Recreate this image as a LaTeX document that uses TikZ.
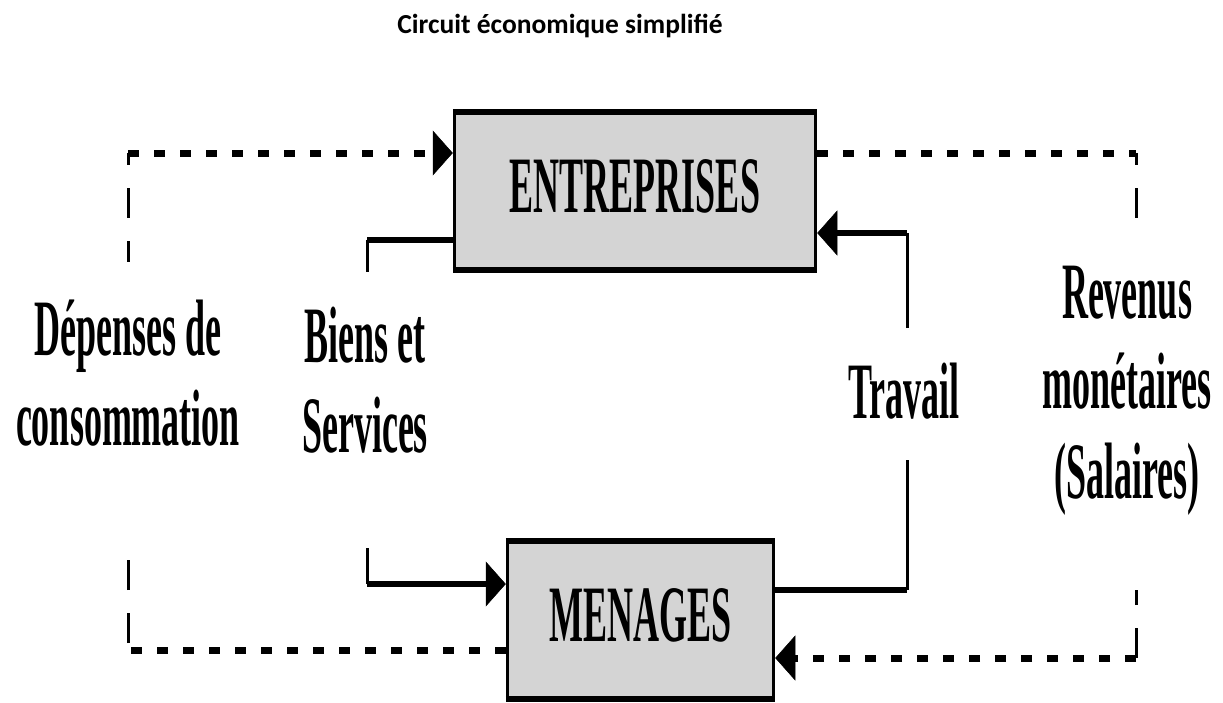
\documentclass[tikz,border=0pt]{standalone}
\usepackage{fontspec}
\setmainfont{Liberation Serif}
\newfontfamily\condfont[FakeStretch=0.45]{Liberation Serif}
\newfontfamily\titlefont{Carlito}
\usetikzlibrary{arrows.meta,positioning}

\tikzset{>={Triangle[length=20pt,width=45pt,line width=0.5pt]},
agent/.style={draw,line width=3.5pt,fill=black!17,text depth=9pt,
font=\condfont\bfseries\fontsize{80}{90}\selectfont},
lbl/.style={inner sep=0pt,align=center,
font=\condfont\bfseries\fontsize{80}{90}\selectfont},
flowH/.style={line width=6pt},
flowV/.style={line width=3pt},
moneyH/.style={line width=7pt,dash pattern=on 11pt off 15pt},
moneyV/.style={line width=3pt,dash pattern=on 30pt off 23pt}}

\begin{document}
\begin{tikzpicture}[x=1pt,y=-1pt]
  \useasboundingbox (0,0) rectangle (1223,702);
  \node [anchor=base,font=\titlefont\bfseries\fontsize{27.5}{30}\selectfont]
    (titre) at (560,33) {Circuit économique simplifié};
  \node [agent,minimum width=361pt,minimum height=155pt]
    (entr) at (635,191) {ENTREPRISES};
  \node [agent,minimum width=266pt,minimum height=155pt]
    (menag) at (640.5,620) {MENAGES};
  \foreach \b in {entr,menag}
    \draw [line width=6pt] (\b.north west) -- (\b.north east)
      (\b.south west) -- (\b.south east);
  \node [lbl,anchor=base] (depLbl)  at (128,445)  {Dépenses de\\consommation};
  \node [lbl,anchor=base] (bienLbl) at (365,452)  {Biens et\\Services};
  \node [lbl,anchor=base] (travLbl) at (904,418)  {Travail};
  \node [lbl,anchor=base] (revLbl)  at (1127,498) {Revenus\\monétaires\\(Salaires)};
  % depenses de consommation
  \coordinate (depB)    at (128,650);
  \coordinate (depBgap) at (128,558);
  \coordinate (depTgap) at (128,262);
  \coordinate (depT)    at (128,153);
  \draw [moneyH] (menag.west |- depB) -- (depB);
  \draw [moneyV,dash phase=46pt] (depB) -- (depBgap);
  \draw [moneyV,dash phase=18pt] (depT) -- (depTgap);
  \draw [moneyH,->] (depT) -- (depT -| entr.west);
  % biens et services
  \coordinate (bienT)    at (367,240);
  \coordinate (bienTgap) at (367,272);
  \coordinate (bienBgap) at (367,548);
  \coordinate (bienB)    at (367,584);
  \draw [flowH] (entr.west |- bienT) -- (bienT);
  \draw [flowV] (bienT) -- (bienTgap);
  \draw [flowV] (bienBgap) -- (bienB);
  \draw [flowH,->] (bienB) -- (bienB -| menag.west);
  % travail
  \coordinate (travB)    at (907,590);
  \coordinate (travBgap) at (907,460);
  \coordinate (travTgap) at (907,328);
  \coordinate (travT)    at (907,233);
  \draw [flowH] (menag.east |- travB) -- (travB);
  \draw [flowV] (travB) -- (travBgap);
  \draw [flowV] (travTgap) -- (travT);
  \draw [flowH,->] (travT) -- (travT -| entr.east);
  % revenus
  \coordinate (revT)    at (1136,153);
  \coordinate (revTgap) at (1136,225);
  \coordinate (revBgap) at (1136,590);
  \coordinate (revB)    at (1136,658);
  \draw [moneyH] (entr.east |- revT) -- (revT);
  \draw [moneyV,dash phase=18pt] (revT) -- (revTgap);
  \draw [moneyV] (revB) -- (revBgap);
  \draw [moneyH,->] (revB) -- (revB -| menag.east);
\end{tikzpicture}
\end{document}
